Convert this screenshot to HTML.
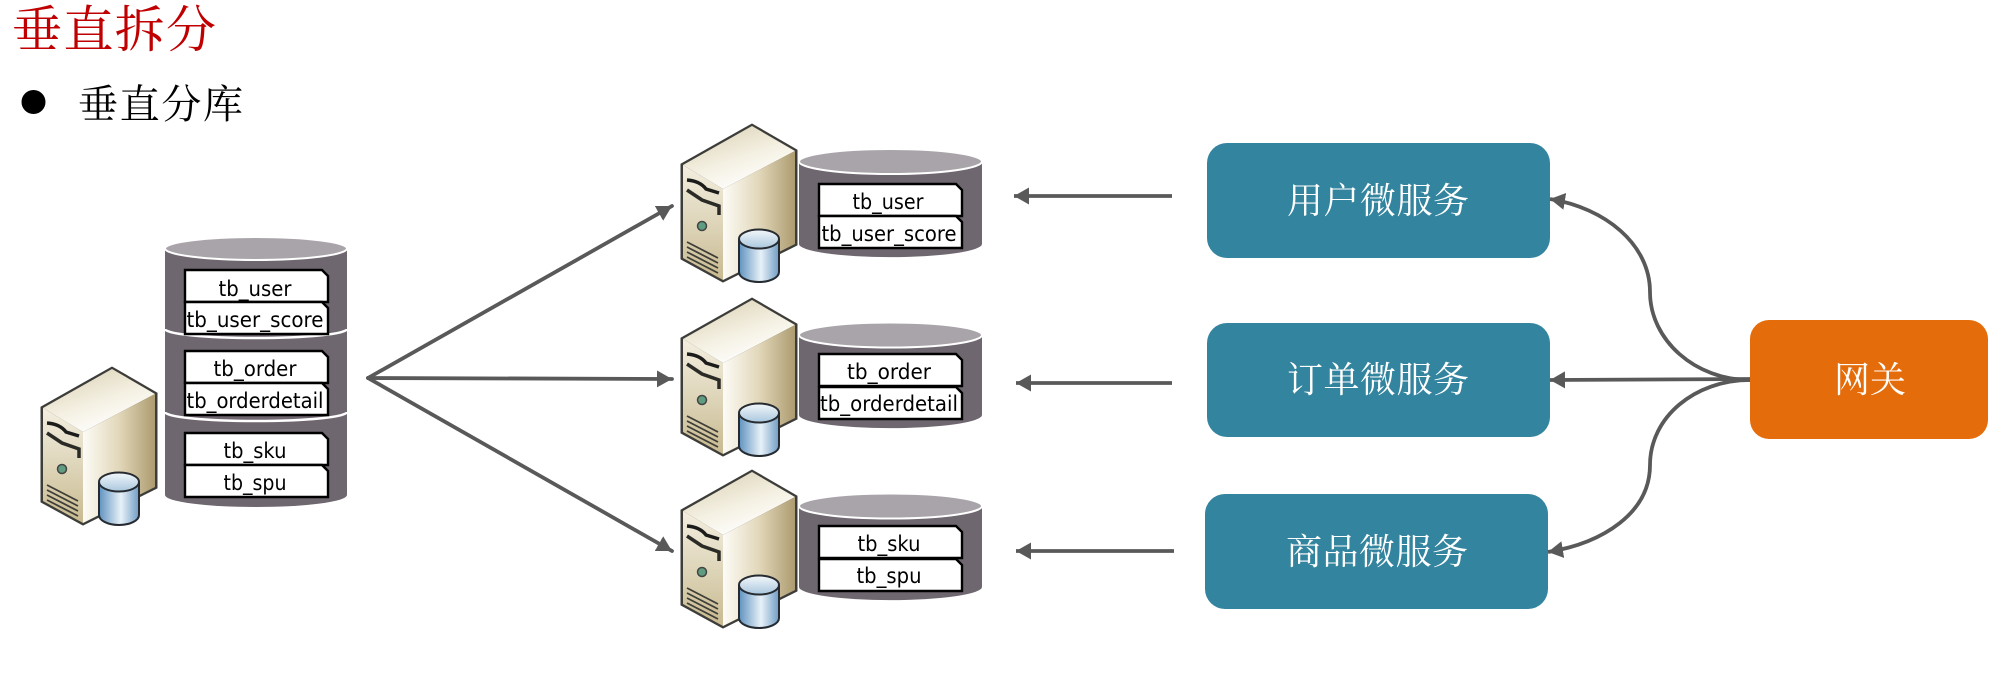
<!DOCTYPE html>
<html><head><meta charset="utf-8"><style>
html,body{margin:0;padding:0;background:#fff}
svg{display:block}
.d{font-family:"DejaVu Sans","Liberation Sans",sans-serif;font-size:21px;fill:#000;text-anchor:middle}
.z{fill:#fff;text-anchor:middle;font-size:36px}
</style></head><body>
<svg width="1995" height="674" viewBox="0 0 1995 674" xmlns="http://www.w3.org/2000/svg">
<defs>
<marker id="a" markerUnits="userSpaceOnUse" markerWidth="18" markerHeight="18" refX="15" refY="8.500" orient="auto"><path d="M0 0L15 8.500L0 17Z" fill="#595959"/></marker>
<linearGradient id="t" x1="0" y1="0" x2="0.6" y2="1"><stop offset="0" stop-color="#d6ccae"/><stop offset=".6" stop-color="#f4f0e2"/><stop offset="1" stop-color="#fff"/></linearGradient>
<linearGradient id="l" x1="0" y1="0" x2="0" y2="1"><stop offset="0" stop-color="#f3eee0"/><stop offset=".55" stop-color="#dcd3b6"/><stop offset="1" stop-color="#c8b98f"/></linearGradient>
<linearGradient id="r" x1="0" y1="0" x2="1" y2="0"><stop offset="0" stop-color="#fdfbf6"/><stop offset=".5" stop-color="#e2d7ba"/><stop offset="1" stop-color="#ad9c70"/></linearGradient>
<linearGradient id="c" x1="0" y1="0" x2="1" y2="0"><stop offset="0" stop-color="#5f92c0"/><stop offset=".55" stop-color="#e8f1f8"/><stop offset="1" stop-color="#6f9cc4"/></linearGradient>
<linearGradient id="ct" x1="0" y1="0" x2="0" y2="1"><stop offset="0" stop-color="#f4f8fb"/><stop offset="1" stop-color="#a9c6de"/></linearGradient>
<g id="s">
<path d="M112 367L157 393V488L83 525L41 502V407Z" fill="#3d3d3a" stroke="#3d3d3a" stroke-width="1" stroke-linejoin="round"/>
<path d="M112 369L155 394L83 432L43 408Z" fill="url(#t)"/>
<path d="M43 408L83 432V523L43 501Z" fill="url(#l)"/>
<path d="M83 432L155 394V487L83 523Z" fill="url(#r)"/>
<path d="M47 423Q60 424 66 432L79 436" fill="none" stroke="#1c1c1a" stroke-width="3.500"/>
<path d="M47 433L62 443L79 449V458" fill="none" stroke="#2a2a26" stroke-width="3.500"/>
<circle cx="62" cy="469" r="4.500" fill="#5f9c80" stroke="#444" stroke-width="1.500"/>
<path d="M47 485L78 501M47 490L78 506M47 495L78 511M47 500L78 516" stroke="#3f3f38" stroke-width="1.800" fill="none"/>
<path d="M99 483V515A20 10 0 0 0 139 515V483Z" fill="url(#c)" stroke="#252b30" stroke-width="2"/>
<ellipse cx="119" cy="482" rx="20" ry="9.500" fill="url(#ct)" stroke="#252b30" stroke-width="2"/>
</g>
<path id="p" d="M1 1H138L144 7V33H1Z" fill="#fff" stroke="#000" stroke-width="2.400"/>
</defs>

<text x="12" y="47" font-family="'Noto Serif CJK SC',serif" font-size="50" fill="#c00000" textLength="204" lengthAdjust="spacing">垂直拆分</text>
<circle cx="33.500" cy="102" r="12" fill="#000"/>
<text x="78" y="118" font-family="'Noto Serif CJK SC',serif" font-size="40" fill="#000" textLength="165" lengthAdjust="spacing">垂直分库</text>

<!-- left server + DB -->
<use href="#s"/>
<path d="M165 248V495A91 12 0 0 0 347 495V248Z" fill="#6f676f"/>
<ellipse cx="256" cy="248.500" rx="91" ry="11.500" fill="#a9a4a9" stroke="#fff" stroke-width="2"/>
<path d="M165 329A91 9 0 0 0 347 329M165 412A91 9 0 0 0 347 412" fill="none" stroke="#fff" stroke-width="2.500"/>
<use href="#p" x="184" y="269"/><use href="#p" x="184" y="301"/>
<use href="#p" x="184" y="350"/><use href="#p" x="184" y="382"/>
<use href="#p" x="184" y="432"/><use href="#p" x="184" y="464"/>
<text class="d" x="255" y="296" textLength="73" lengthAdjust="spacingAndGlyphs">tb_user</text>
<text class="d" x="255" y="327" textLength="137" lengthAdjust="spacingAndGlyphs">tb_user_score</text>
<text class="d" x="255" y="376" textLength="83" lengthAdjust="spacingAndGlyphs">tb_order</text>
<text class="d" x="255" y="408" textLength="137" lengthAdjust="spacingAndGlyphs">tb_orderdetail</text>
<text class="d" x="255" y="458" textLength="63" lengthAdjust="spacingAndGlyphs">tb_sku</text>
<text class="d" x="255" y="490" textLength="63" lengthAdjust="spacingAndGlyphs">tb_spu</text>

<!-- fan-out arrows -->
<g stroke="#595959" stroke-width="3.800" fill="none" stroke-linecap="round">
<path d="M368 378L672 206" marker-end="url(#a)"/>
<path d="M368 378L672 379" marker-end="url(#a)"/>
<path d="M368 378L672 551" marker-end="url(#a)"/>
</g>

<!-- servers -->
<use href="#s" x="640" y="-243"/>
<use href="#s" x="640" y="-69"/>
<use href="#s" x="640" y="103"/>

<!-- DB 1 -->
<path d="M799 161V244A91 13 0 0 0 982 244V161Z" fill="#6f676f"/>
<ellipse cx="890.500" cy="161.500" rx="91.500" ry="12.500" fill="#a9a4a9" stroke="#fff" stroke-width="2"/>
<use href="#p" x="818" y="183"/><use href="#p" x="818" y="215"/>
<text class="d" x="888" y="209" textLength="71" lengthAdjust="spacingAndGlyphs">tb_user</text>
<text class="d" x="889" y="241" textLength="135" lengthAdjust="spacingAndGlyphs">tb_user_score</text>
<!-- DB 2 -->
<path d="M799 335V415A91 13 0 0 0 982 415V335Z" fill="#6f676f"/>
<ellipse cx="890.500" cy="335" rx="91.500" ry="12.500" fill="#a9a4a9" stroke="#fff" stroke-width="2"/>
<use href="#p" x="818" y="353"/><use href="#p" x="818" y="386"/>
<text class="d" x="889" y="379" textLength="84" lengthAdjust="spacingAndGlyphs">tb_order</text>
<text class="d" x="889" y="411" textLength="138" lengthAdjust="spacingAndGlyphs">tb_orderdetail</text>
<!-- DB 3 -->
<path d="M799 506V587A91 13 0 0 0 982 587V506Z" fill="#6f676f"/>
<ellipse cx="890.500" cy="506" rx="91.500" ry="12.500" fill="#a9a4a9" stroke="#fff" stroke-width="2"/>
<use href="#p" x="818" y="525"/><use href="#p" x="818" y="558"/>
<text class="d" x="889" y="551" textLength="63" lengthAdjust="spacingAndGlyphs">tb_sku</text>
<text class="d" x="889" y="583" textLength="65" lengthAdjust="spacingAndGlyphs">tb_spu</text>

<!-- back arrows -->
<g stroke="#595959" stroke-width="3.800" fill="none">
<path d="M1172 196H1014" marker-end="url(#a)"/>
<path d="M1172 383H1016" marker-end="url(#a)"/>
<path d="M1174 551H1016" marker-end="url(#a)"/>
</g>

<!-- service boxes -->
<rect x="1207" y="143" width="343" height="115" rx="20" fill="#33849e"/>
<rect x="1207" y="323" width="343" height="114" rx="20" fill="#33849e"/>
<rect x="1205" y="494" width="343" height="115" rx="20" fill="#33849e"/>
<text class="z" x="1378" y="213" font-family="'Noto Serif CJK SC',serif" textLength="182" lengthAdjust="spacing">用户微服务</text>
<text class="z" x="1378" y="392" font-family="'Noto Serif CJK SC',serif" textLength="182" lengthAdjust="spacing">订单微服务</text>
<text class="z" x="1377" y="564" font-family="'Noto Serif CJK SC',serif" textLength="182" lengthAdjust="spacing">商品微服务</text>

<!-- gateway -->
<rect x="1750" y="320" width="238" height="119" rx="19" fill="#e46c0a"/>
<text class="z" x="1870" y="392" font-size="35" font-family="'Noto Serif CJK SC',serif">网关</text>
<g stroke="#595959" stroke-width="3.800" fill="none">
<path d="M1750 380C1695 380 1650 340 1650 292C1650 244 1605 208 1550 199" marker-end="url(#a)"/>
<path d="M1750 379L1550 380" marker-end="url(#a)"/>
<path d="M1750 380C1695 380 1650 417 1650 465C1650 513 1603 543 1548 552" marker-end="url(#a)"/>
</g>
</svg>
</body></html>
